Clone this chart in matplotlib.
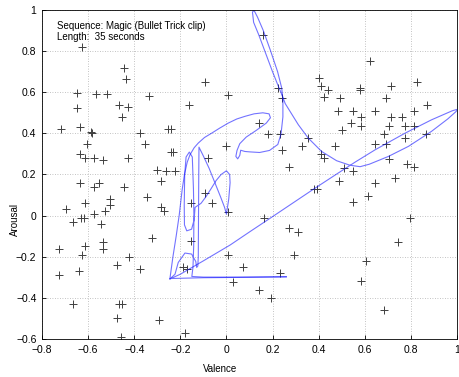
import matplotlib
matplotlib.use("Agg")
import matplotlib.pyplot as plt

plt.rcParams['font.family'] = ['Liberation Sans', 'DejaVu Sans']

# ---- data: rated clips (valence, arousal) ----
pts_x = [-0.625,-0.445,-0.437,-0.092,-0.646,-0.565,-0.519,-0.466,-0.425,-0.335,-0.163,0.009,-0.647,-0.455,
         -0.717,-0.637,-0.587,-0.583,-0.373,-0.252,-0.240,-0.354,-0.605,-0.637,-0.613,-0.575,-0.535,-0.425,
         -0.240,-0.230,0.0,-0.08,-0.302,-0.261,-0.224,-0.283,-0.637,-0.553,-0.575,-0.443,
         0.16,0.623,0.403,0.411,0.442,0.423,0.579,0.579,0.714,0.825,0.491,0.692,0.872,0.222,0.243,0.482,0.55,
         0.644,0.812,0.583,0.714,0.762,0.542,0.583,0.704,0.773,0.812,0.501,0.141,0.182,0.233,0.683,0.864,0.353,
         0.33,0.472,0.644,0.692,0.776,0.242,0.411,0.422,0.704,0.272,0.51,0.55,0.783,0.815,0.49,0.644,0.733,0.38,0.395,
         0.616,0.55,0.797,0.746,0.605,0.584,0.685,0.272,0.312,0.294,0.233,0.071,0.029,0.141,0.192,0.162,
         -0.698,-0.614,-0.504,-0.504,-0.345,-0.283,-0.272,-0.666,-0.629,-0.617,-0.576,-0.545,-0.526,-0.614,-0.536,
         -0.536,-0.727,-0.627,-0.424,-0.323,-0.727,-0.639,-0.476,-0.373,-0.666,-0.466,-0.455,-0.476,-0.456,-0.292,
         -0.181,-0.152,-0.091,-0.061,0.008,-0.152,-0.19,-0.17,0.009]
pts_y = [0.82,0.72,0.665,0.65,0.598,0.59,0.59,0.54,0.528,0.58,0.54,0.589,0.521,0.479,
         0.421,0.431,0.405,0.40,0.40,0.421,0.421,0.35,0.349,0.30,0.28,0.28,0.269,0.28,
         0.31,0.31,0.34,0.28,0.22,0.215,0.215,0.168,0.159,0.159,0.138,0.138,
         0.88,0.75,0.668,0.628,0.609,0.579,0.62,0.61,0.628,0.65,0.57,0.571,0.538,0.619,0.57,0.507,0.507,
         0.507,0.507,0.478,0.478,0.478,0.449,0.438,0.438,0.438,0.438,0.418,0.448,0.398,0.398,0.398,0.398,0.378,
         0.338,0.338,0.347,0.347,0.377,0.317,0.301,0.278,0.277,0.237,0.23,0.215,0.25,0.238,0.167,0.158,0.185,0.13,0.13,
         0.097,0.065,-0.011,-0.13,-0.222,-0.32,-0.461,-0.062,-0.082,-0.193,-0.281,-0.252,-0.322,-0.363,-0.403,-0.01,
         0.031,0.06,0.081,0.05,0.09,0.042,0.022,-0.029,-0.01,-0.01,0.01,-0.039,0.021,-0.149,-0.13,
         -0.162,-0.16,-0.19,-0.2,-0.11,-0.288,-0.267,-0.24,-0.26,-0.43,-0.43,-0.43,-0.5,-0.588,-0.51,
         -0.572,0.06,0.109,0.06,0.02,-0.122,-0.25,-0.262,-0.19]

# ---- data: emotion trajectory of the clip (first and second half) ----
traj1_x = [0.26,0.1,-0.1,-0.245,
           -0.232,-0.218,-0.205,-0.192,-0.182,-0.17,-0.158,-0.14,-0.122,-0.095,-0.064,-0.03,0.008,0.045,0.081,
           0.12,0.158,0.185,0.191,0.173,0.13,0.086,0.058,0.046,0.041,0.049,0.058,0.062,0.08,0.101,0.144,0.187,
           0.223,0.237,0.245,0.245,0.24,0.222,0.192,0.16,0.135,0.12,0.113,0.118,0.14,0.17,0.2,0.225,0.24,0.255,
           0.276,0.312,0.355,0.413,0.478,0.536,0.58,0.62,0.703,0.79,0.89,0.96,0.995,1.005,0.98,0.89,0.775,0.645,
           0.558,0.478,0.377,0.2,0.102,0.016,-0.1,-0.2,-0.245]
traj1_y = [-0.298,-0.300,-0.302,-0.306,
           -0.2,-0.1,0.0,0.126,0.2,0.26,0.296,0.33,0.353,0.38,0.401,0.425,0.45,0.47,0.483,
           0.495,0.5,0.495,0.476,0.45,0.415,0.382,0.35,0.317,0.288,0.276,0.293,0.318,0.312,0.31,0.307,0.317,
           0.346,0.398,0.48,0.561,0.62,0.7,0.8,0.9,0.965,0.998,0.99,0.94,0.88,0.79,0.7,0.63,0.59,0.545,
           0.507,0.442,0.377,0.312,0.267,0.245,0.238,0.25,0.288,0.337,0.41,0.47,0.505,0.518,0.51,0.466,0.401,0.32,
           0.26,0.202,0.128,-0.005,-0.078,-0.143,-0.22,-0.285,-0.308]
traj2_x = [-0.245,-0.223,-0.209,-0.18,-0.151,-0.133,-0.129,-0.124,-0.122,-0.121,-0.12,-0.119,
           -0.1,-0.075,-0.05,-0.025,-0.008,0.0,0.01,0.016,0.014,0.0,-0.023,-0.045,-0.067,-0.09,-0.11,
           -0.136,-0.14,-0.151,-0.172,-0.182,-0.183,-0.181,-0.175,-0.161,-0.148,-0.143,-0.141,-0.142,-0.145,
           -0.15,-0.1,0.05,0.26]
traj2_y = [-0.308,-0.285,-0.228,-0.182,-0.187,-0.223,-0.252,-0.245,-0.2,0.0,0.2,0.333,
           0.29,0.23,0.16,0.09,0.04,0.007,0.08,0.16,0.2,0.218,0.2,0.17,0.13,0.09,0.06,
           0.04,-0.02,-0.066,-0.074,-0.045,0.05,0.2,0.285,0.309,0.285,0.13,0.0,-0.15,-0.25,
           -0.296,-0.299,-0.299,-0.297]

fig = plt.figure(figsize=(4.59, 3.77), dpi=100)
ax = fig.add_axes([0.0915, 0.1008, 0.904, 0.8727])
ax.plot(pts_x, pts_y, linestyle="none", marker="+", markersize=5.5, markeredgewidth=0.7, color="#404040")
ax.plot(traj1_x, traj1_y, color="blue", alpha=0.55, linewidth=0.8)
ax.plot(traj2_x, traj2_y, color="blue", alpha=0.55, linewidth=0.8)
ax.set_xlim(-0.8, 1.0)
ax.set_ylim(-0.6, 1.0)
xt = [-0.8,-0.6,-0.4,-0.2,0,0.2,0.4,0.6,0.8,1]
yt = [-0.6,-0.4,-0.2,0,0.2,0.4,0.6,0.8,1]
ax.set_xticks(xt)
ax.set_xticklabels([("%g" % v).replace("-", "\u2212") for v in xt])
ax.set_yticks(yt)
ax.set_yticklabels([("%g" % v).replace("-", "\u2212") for v in yt])
ax.grid(True, linestyle=(0, (1, 2)), color="#b0b0b0", linewidth=0.6)
ax.tick_params(labelsize=7.5, direction="in", length=3, width=0.6, pad=4)
for s in ax.spines.values():
    s.set_linewidth(0.6)
ax.set_xlabel("Valence", fontsize=7)
ax.set_ylabel("Arousal", fontsize=7)
ax.xaxis.set_label_coords(0.428, -0.091)
ax.yaxis.set_label_coords(-0.065, 0.362)
ax.xaxis.label.set_va("center")
ax.yaxis.label.set_va("center")
ax.text(0.035, 0.966, "Sequence: Magic (Bullet Trick clip)\nLength:  35 seconds", transform=ax.transAxes,
        fontsize=7, va="top", ha="left", linespacing=1.15)
fig.savefig("out.png", dpi=100)
